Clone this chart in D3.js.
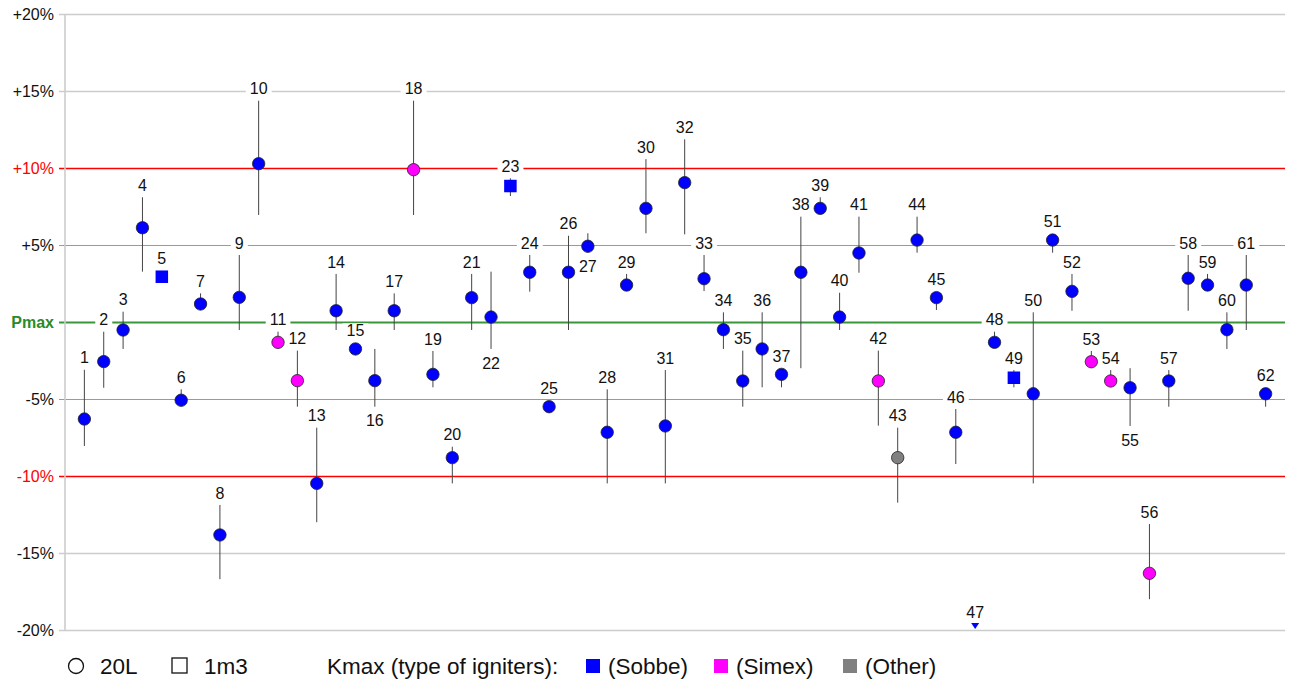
<!DOCTYPE html>
<html>
<head>
<meta charset="utf-8">
<script src="https://cdn.jsdelivr.net/npm/d3@7"></script>
<style>
  body { margin: 0; background: #fff; }
  svg { display: block; font-family: "Liberation Sans", Arial, sans-serif; }
</style>
</head>
<body>
<div id="chart"></div>
<script>
// lab numbers
const labs = d3.range(1, 63);
// deviation from reference value (%), centre of each result
const values = [-6.3, -2.57, -0.52, 6.12, 2.94, -5.08, 1.17, -13.83, 1.6, 10.28,
  -1.32, -3.81, -10.48, 0.73, -1.75, -3.81, 0.73, 9.89, -3.4, -8.81,
  1.58, 0.32, 8.83, 3.23, -5.5, 3.23, 4.92, -7.16, 2.4, 7.38,
  -6.75, 9.05, 2.81, -0.5, -3.83, -1.75, -3.4, 3.23, 7.38, 0.32,
  4.48, -3.83, -8.81, 5.32, 1.58, -7.16, -24, -1.32, -3.62, -4.66,
  5.32, 1.99, -2.58, -3.83, -4.27, -16.32, -3.83, 2.84, 2.4, -0.5,
  2.4, -4.66];
// lower and upper end of the spread
const lows = [-8.05, -4.27, -1.75, 3.27, null, -5.3, 0.9, -16.7, -0.52, 6.95,
  -1.5, -5.5, -13.0, -0.52, null, -5.5, -0.52, 6.95, -4.24, -10.48,
  -0.52, -1.75, 8.18, 1.97, null, -0.52, 4.7, -10.48, 2.2, 5.76,
  -10.48, 5.69, 2.01, -1.75, -5.5, -4.24, -4.24, -3.0, 7.2, -0.52,
  3.2, -6.73, -11.73, 4.5, 0.78, -9.22, null, -1.5, -4.24, -10.48,
  4.5, 0.73, -2.8, -4.0, -6.75, -18.0, -5.5, 0.73, 2.2, -1.75,
  -0.52, -5.5];
const highs = [-3.1, -0.63, 0.67, 8.1, null, -4.37, 1.86, -11.88, 4.35, 14.37,
  -0.63, -1.86, -6.86, 3.12, null, -1.75, 1.86, 14.37, -1.88, -8.1,
  3.12, 3.27, 9.33, 4.35, null, 5.6, 5.76, -4.37, 3.12, 10.58,
  -3.12, 11.86, 4.35, 0.63, -1.86, 0.63, -3.2, 6.84, 8.1, 1.9,
  6.84, -1.86, -6.86, 6.84, 1.9, -5.65, null, -0.63, -3.12, 0.63,
  5.6, 3.12, -1.88, -3.12, -3.0, -13.12, -3.12, 4.35, 3.12, 0.63,
  4.35, -4.3];
// apparatus: 1m3 labs (the rest are 20L)
const labs1m3 = [5, 23, 49];
// type of igniters for Kmax
const simexLabs = [11, 12, 18, 42, 53, 54, 56];
const otherLabs = [43];
// labels drawn under the result
const labelsBelow = [16, 22, 27, 55];

const tickValues = [20, 15, 10, 5, 0, -5, -10, -15, -20];
const tickLabels = ["+20%", "+15%", "+10%", "+5%", "Pmax", "-5%", "-10%", "-15%", "-20%"];

const legendApparatus = ["20L", "1m3"];
const legendIgniters = ["(Sobbe)", "(Simex)", "(Other)"];
const igniterColors = {"(Sobbe)": "#0000ff", "(Simex)": "#ff00ff", "(Other)": "#808080"};

const FONT = "'Liberation Sans', Arial, sans-serif";
const W = 1289, H = 683;
const svg = d3.select("#chart").append("svg").attr("width", W).attr("height", H);

const x = d3.scaleLinear().domain([0, 63]).range([65, 1285]);
const y = d3.scaleLinear().domain([-20, 20]).range([630, 14]);

function igniter(lab) {
  if (simexLabs.includes(lab)) return "(Simex)";
  if (otherLabs.includes(lab)) return "(Other)";
  return "(Sobbe)";
}

// axis + grid
const axis = svg.append("g")
  .attr("transform", `translate(${x(0)},0)`)
  .call(d3.axisLeft(y)
    .tickValues(tickValues)
    .tickFormat((d, i) => tickLabels[i])
    .tickSizeInner(-(x(63) - x(0)))
    .tickSizeOuter(0)
    .tickPadding(11));
axis.attr("font-family", FONT).attr("font-size", 16);
axis.select(".domain").remove();
axis.selectAll(".tick line")
  .attr("x1", -6)
  .attr("stroke", d => d === 0 ? "#3a963a" : Math.abs(d) === 10 ? "#ff0000" : Math.abs(d) === 5 ? "#9a9a9a" : "#cccccc")
  .attr("stroke-width", d => d === 0 ? 2 : Math.abs(d) === 5 ? 1 : 1.6);
axis.selectAll(".tick text")
  .attr("font-weight", d => d === 0 ? "bold" : null)
  .attr("fill", d => d === 0 ? "#2a8a2a" : Math.abs(d) === 10 ? "#ff0000" : "#111");

svg.append("line")
  .attr("x1", x(0)).attr("x2", x(0))
  .attr("y1", y(20)).attr("y2", y(-20))
  .attr("stroke", "#cccccc").attr("stroke-width", 1.6);

const data = labs.map((lab, i) => ({
  lab, v: values[i], lo: lows[i], hi: highs[i],
  square: labs1m3.includes(lab), ign: igniter(lab),
  off: values[i] < -20
}));

const r = 6.2, sq = 12.5;

// labels (with white knockout)
const labelG = svg.append("g").attr("font-family", FONT);
const labels = labelG.selectAll("g").data(data).enter().append("g");
labels.append("text")
  .attr("x", d => x(d.lab))
  .attr("y", d => {
    if (d.off) return y(-20) - 18;
    if (labelsBelow.includes(d.lab)) {
      const b = Math.max(d.lo == null ? -Infinity : y(d.lo), y(d.v) + r);
      return b + 14;
    }
    const t = Math.min(d.hi == null ? Infinity : y(d.hi), y(d.v) - r);
    return t - 12;
  })
  .attr("dy", "0.35em")
  .attr("text-anchor", "middle")
  .attr("font-size", 16)
  .attr("fill", "#111")
  .text(d => d.lab);
labels.each(function() {
  const g = d3.select(this);
  const bb = g.select("text").node().getBBox();
  g.insert("rect", "text")
    .attr("x", bb.x - 4).attr("y", bb.y + 1)
    .attr("width", bb.width + 8).attr("height", bb.height - 2)
    .attr("fill", "#fff");
});

// spread bars
svg.append("g").selectAll("line")
  .data(data.filter(d => d.lo != null))
  .enter().append("line")
  .attr("x1", d => x(d.lab)).attr("x2", d => x(d.lab))
  .attr("y1", d => y(d.hi)).attr("y2", d => y(d.lo))
  .attr("stroke", "#444").attr("stroke-width", 1);

// markers
const marks = svg.append("g");
marks.selectAll("circle")
  .data(data.filter(d => !d.square && !d.off))
  .enter().append("circle")
  .attr("cx", d => x(d.lab)).attr("cy", d => y(d.v))
  .attr("r", r)
  .attr("fill", d => igniterColors[d.ign])
  .attr("stroke", "#222").attr("stroke-width", 0.8);
marks.selectAll("rect")
  .data(data.filter(d => d.square))
  .enter().append("rect")
  .attr("x", d => x(d.lab) - sq / 2).attr("y", d => y(d.v) - sq / 2)
  .attr("width", sq).attr("height", sq)
  .attr("fill", d => igniterColors[d.ign]);
marks.selectAll("path")
  .data(data.filter(d => d.off))
  .enter().append("path")
  .attr("d", "M-4,0 L4,0 L0,6 Z")
  .attr("transform", d => `translate(${x(d.lab)},${y(-20) - 7})`)
  .attr("fill", d => igniterColors[d.ign]);

// legend
const ly = 666;
const leg = svg.append("g").attr("font-family", FONT).attr("font-size", 22.5).attr("fill", "#111");
leg.append("circle").attr("cx", 76).attr("cy", ly).attr("r", 7.5)
  .attr("fill", "none").attr("stroke", "#111").attr("stroke-width", 1.3);
leg.append("text").attr("x", 100).attr("y", ly).attr("dy", "0.36em").text(legendApparatus[0]);
leg.append("rect").attr("x", 172).attr("y", ly - 8).attr("width", 15).attr("height", 15)
  .attr("fill", "none").attr("stroke", "#111").attr("stroke-width", 1.3);
leg.append("text").attr("x", 204).attr("y", ly).attr("dy", "0.36em").text(legendApparatus[1]);
leg.append("text").attr("x", 327).attr("y", ly).attr("dy", "0.36em").text("Kmax (type of igniters):");
const igX = [586, 714, 843];
legendIgniters.forEach((name, i) => {
  leg.append("rect").attr("x", igX[i]).attr("y", ly - 7).attr("width", 14).attr("height", 14)
    .attr("fill", igniterColors[name]);
  leg.append("text").attr("x", igX[i] + 22).attr("y", ly).attr("dy", "0.36em").text(name);
});
</script>
</body>
</html>
